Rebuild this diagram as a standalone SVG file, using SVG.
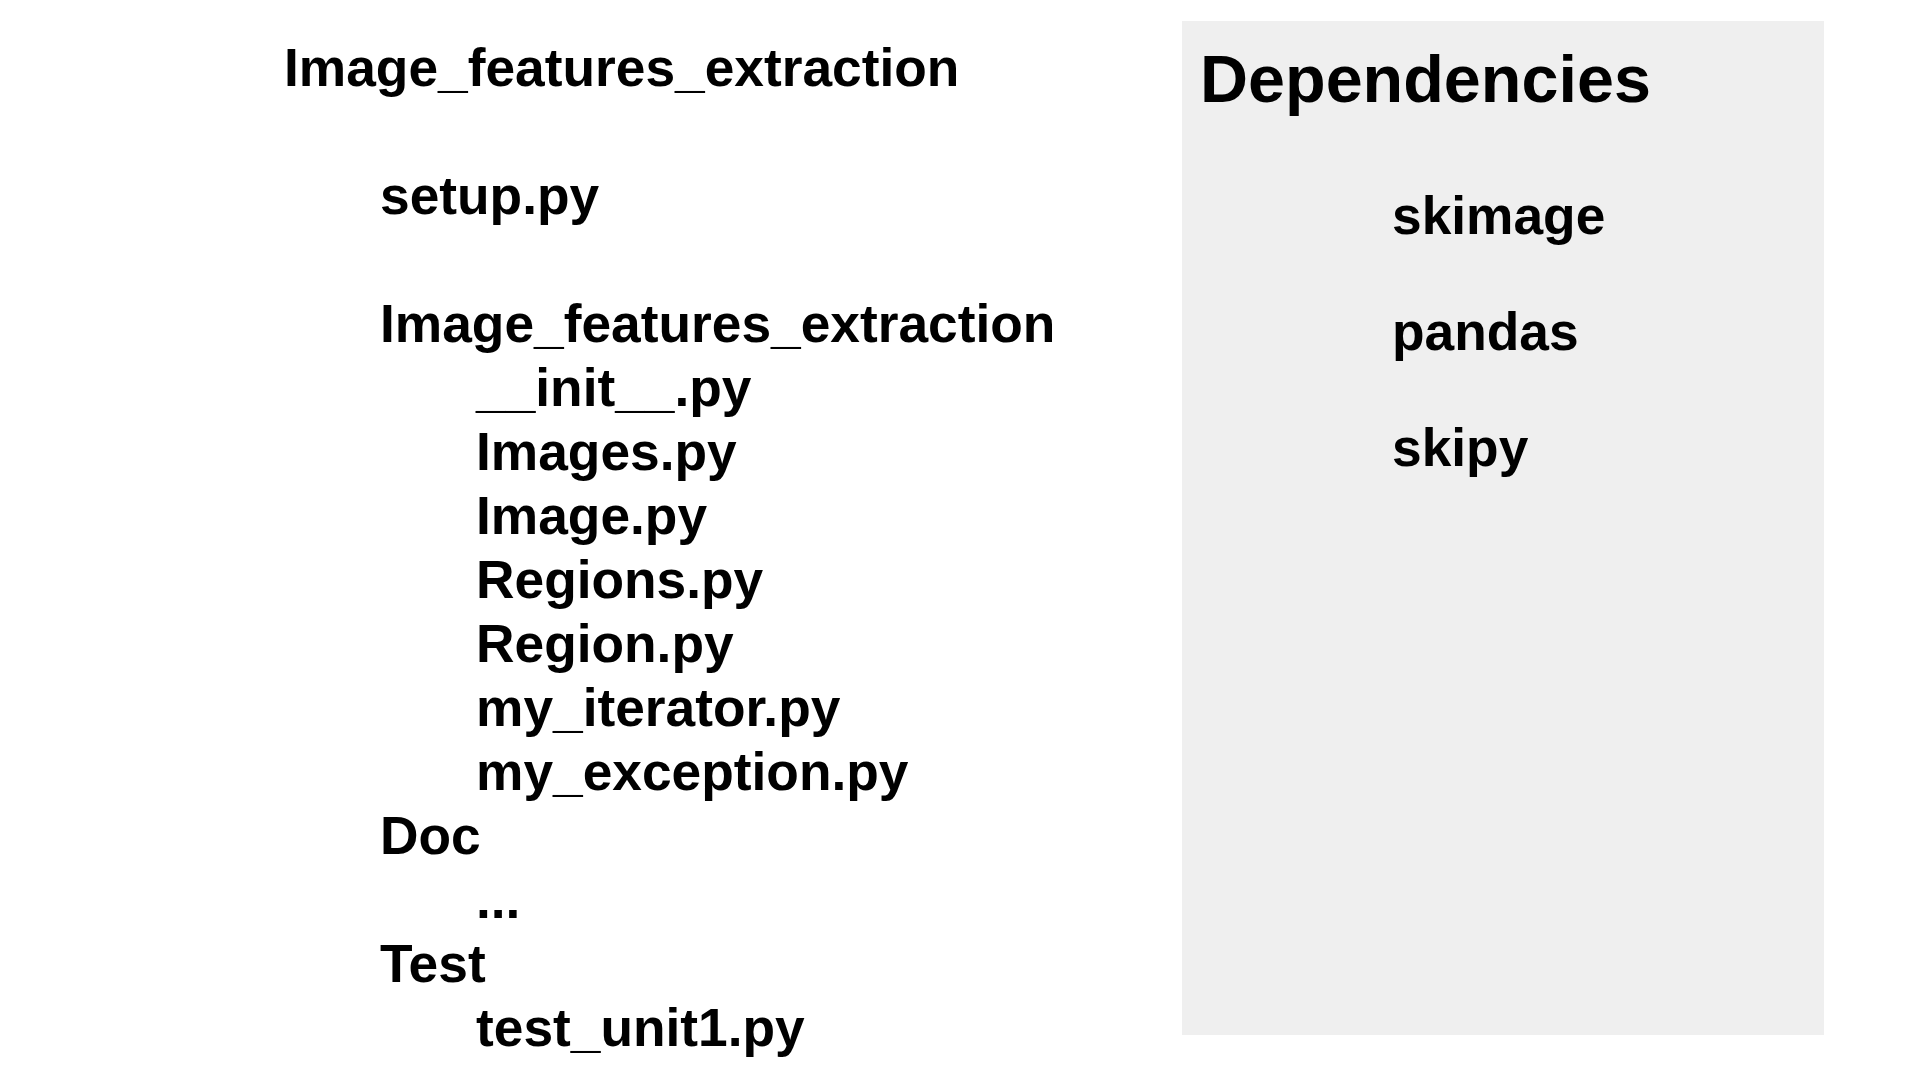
<svg xmlns="http://www.w3.org/2000/svg" width="1920" height="1080" viewBox="0 0 1920 1080">
<style>
.t{font-family:"Liberation Sans",Arial,sans-serif;font-weight:bold;font-size:53.3px;fill:#000}
.h{font-family:"Liberation Sans",Arial,sans-serif;font-weight:bold;font-size:66.5px;fill:#000}
</style>
<rect width="1920" height="1080" fill="#fff"/>
<g id="tree">
<text class="t" x="284" y="86">Image_features_extraction</text>
<text class="t" x="380" y="214">setup.py</text>
<text class="t" x="380" y="342">Image_features_extraction</text>
<text class="t" x="476" y="406">__init__.py</text>
<text class="t" x="476" y="470">Images.py</text>
<text class="t" x="476" y="534">Image.py</text>
<text class="t" x="476" y="598">Regions.py</text>
<text class="t" x="476" y="662">Region.py</text>
<text class="t" x="476" y="726">my_iterator.py</text>
<text class="t" x="476" y="790">my_exception.py</text>
<text class="t" x="380" y="854">Doc</text>
<text class="t" x="476" y="918">...</text>
<text class="t" x="380" y="982">Test</text>
<text class="t" x="476" y="1046">test_unit1.py</text>
</g>
<g id="dependencies">
<rect x="1182" y="21" width="642" height="1014" fill="#efefef"/>
<text class="h" x="1200" y="102">Dependencies</text>
<text class="t" x="1392" y="234">skimage</text>
<text class="t" x="1392" y="350">pandas</text>
<text class="t" x="1392" y="466">skipy</text>
</g>
</svg>
